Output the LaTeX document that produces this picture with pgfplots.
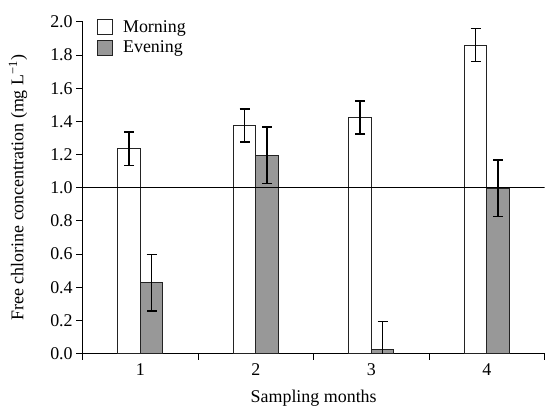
\documentclass[border=0pt]{standalone}
\usepackage{pgfplots}
\pgfplotsset{compat=1.18}
\usepackage{fontspec}
\setmainfont{Liberation Serif}
\definecolor{evegray}{RGB}{152,152,152}
\definecolor{edge}{RGB}{35,35,35}
\begin{document}
\begin{tikzpicture}
\begin{axis}[
  name=ax,
  scale only axis,
  width=464pt, height=333pt,
  xmin=0.5, xmax=4.5,
  ymin=0, ymax=2.0,
  ybar=0pt,
  bar width=22.6pt,
  axis x line=bottom, axis y line=left,
  axis line style={-, line width=1pt, black},
  tick align=outside,
  major tick length=6.5pt,
  xtick={1,2,3,4},
  xticklabels={1,2,3,4},
  major x tick style={draw=none},
  extra x ticks={0.5,1.5,2.5,3.5,4.5},
  extra x tick labels={,,,,},
  extra x tick style={major x tick style={draw=black, line width=1pt}},
  ytick={0,0.2,...,2.01},
  y tick style={line width=1pt, black},
  yticklabel style={/pgf/number format/.cd, fixed, fixed zerofill, precision=1},
  /pgf/number format/assume math mode=true,
  tick label style={font=\fontsize{18}{20}\selectfont},
  label style={font=\fontsize{18}{20}\selectfont},
  xlabel={Sampling months},
  ylabel={Free chlorine concentration (mg L\textsuperscript{−1})},
  xlabel style={at={(axis description cs:0.5,0)}, anchor=center, yshift=-45pt},
  ylabel style={at={(axis description cs:-0.140,0.5)}, anchor=center},
  legend style={draw=none, fill=none, at={(axis cs:0.62,2.02)}, anchor=north west,
    font=\fontsize{18}{20}\selectfont, row sep=3pt, inner sep=0pt},
  legend cell align=left,
  legend image code/.code={\draw[#1, ybar=0pt, line width=1pt] (0pt,-7.5pt) rectangle (15pt,7.5pt);
    \path[draw=none, fill=none] (24pt,0pt);},
  error bars/y dir=both,
  error bars/y explicit,
  error bars/error bar style={line width=1.4pt, black},
  error bars/error mark options={rotate=90, mark size=5pt, line width=1.4pt, black},
]
\addplot[fill=white, draw=edge, line width=1pt] coordinates {
  (1,1.235) +- (0,0.10)
  (2,1.375) +- (0,0.10)
  (3,1.423) +- (0,0.10)
  (4,1.860) +- (0,0.10)
};
\addplot[fill=evegray, draw=edge, line width=1pt] coordinates {
  (1,0.426) +- (0,0.17)
  (2,1.195) +- (0,0.17)
  (3,0.022) +- (0,0.17)
  (4,0.998) +- (0,0.17)
};
\legend{Morning,Evening}
\draw[line width=1pt, black] (axis cs:0.5,1.0) -- (axis cs:4.5,1.0);
\end{axis}
\path (ax.south west) ++(-83pt,-54pt) coordinate (bl);
\path (ax.north east) ++(1pt,22pt) coordinate (tr);
\path[use as bounding box] (bl) rectangle (tr);
\end{tikzpicture}
\end{document}
